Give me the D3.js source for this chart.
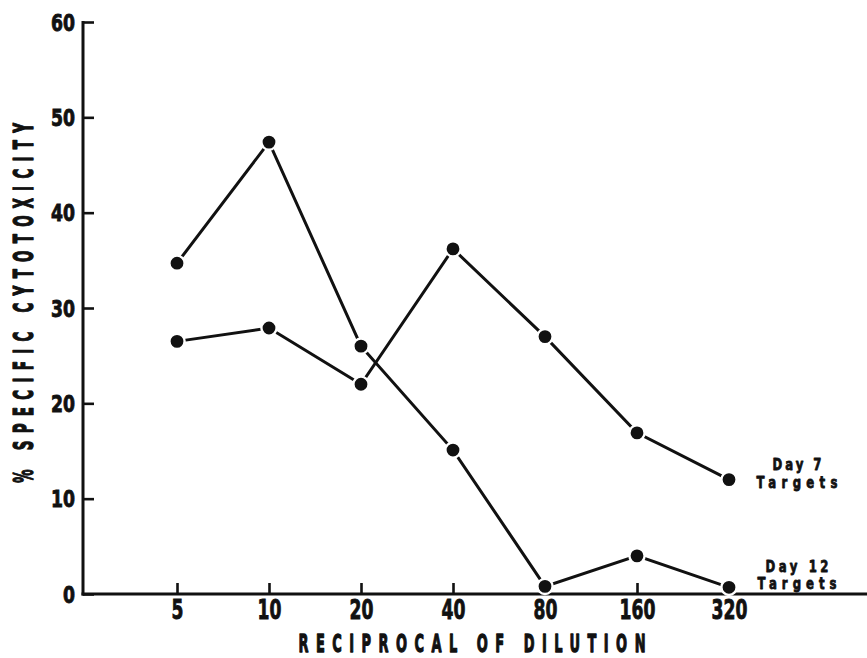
<!DOCTYPE html>
<html>
<head>
<meta charset="utf-8">
<script src="https://cdn.jsdelivr.net/npm/d3@7"></script>
<style>
  html, body { margin: 0; padding: 0; background: #fff; }
  svg { display: block; }
  text { font-family: "DejaVu Sans", "Liberation Sans", sans-serif; font-weight: bold; fill: #111; }
</style>
</head>
<body>
<svg id="chart" width="867" height="658"></svg>
<script>
const dilutions = ["5", "10", "20", "40", "80", "160", "320"];
const day7 = [26.5, 27.9, 22.0, 36.2, 27.0, 16.9, 12.0];
const day12 = [34.7, 47.4, 26.0, 15.1, 0.8, 4.0, 0.7];
const yTicks = [0, 10, 20, 30, 40, 50, 60];
const seriesLabels = [["Day 7", "Targets"], ["Day 12", "Targets"]];
const xTitle = "RECIPROCAL OF DILUTION";
const yTitle = "% SPECIFIC CYTOTOXICITY";

const svg = d3.select("#chart");
const axisX = 83, axisRight = 867;
const ink = "#111";

const x = d3.scalePoint().domain(dilutions).range([177, 729]);
const y = d3.scaleLinear().domain([0, 60]).range([594, 22]);

// solve letter-spacing so an element (text or tspan) spans a given width after horizontal scaling
function fitSpacing(el, str, width, sx) {
  el.attr("letter-spacing", 0);
  const natural = el.node().getComputedTextLength();
  const L = (width / sx - natural) / (str.length - 1);
  el.attr("letter-spacing", L).attr("dx", L / 2);
}

function condensedText(parent, str, opts) {
  const g = parent.append("g").attr("transform", `translate(${opts.x},${opts.y})${opts.rotate ? " rotate(" + opts.rotate + ")" : ""}`);
  const t = g.append("text").attr("font-size", opts.size).attr("text-anchor", "middle")
    .attr("transform", `scale(${opts.sx},1)`)
    .attr("stroke", ink).attr("stroke-width", opts.stroke || 0.8).attr("stroke-linejoin", "round")
    .text(str);
  fitSpacing(t, str, opts.width, opts.sx);
  return t;
}

// y axis
const yAxis = d3.axisLeft(y).tickValues(yTicks).tickSize(-11).tickFormat(d3.format("d"));
const gy = svg.append("g").attr("transform", `translate(${axisX},0)`).call(yAxis);
gy.select(".domain").remove();
gy.selectAll(".tick line").attr("stroke", ink).attr("stroke-width", 2.6);
gy.selectAll(".tick text").attr("font-size", 23).attr("fill", ink)
  .attr("x", null).attr("dy", "0.36em")
  .attr("transform", "translate(-8,0) scale(0.75,1)")
  .attr("stroke", ink).attr("stroke-width", 0.9);
svg.append("line").attr("x1", axisX).attr("x2", axisX).attr("y1", y(60) - 1).attr("y2", y(0) + 1.5)
  .attr("stroke", ink).attr("stroke-width", 3);

// x axis
const xAxis = d3.axisBottom(x).tickSize(-11);
const gx = svg.append("g").attr("transform", `translate(0,${y(0)})`).call(xAxis);
gx.select(".domain").remove();
gx.selectAll(".tick line").attr("stroke", ink).attr("stroke-width", 2.6);
gx.selectAll(".tick text").attr("font-size", 26).attr("fill", ink)
  .attr("y", null).attr("dy", 0)
  .attr("transform", "translate(0,25) scale(0.66,1)")
  .attr("stroke", ink).attr("stroke-width", 0.9);
svg.append("line").attr("x1", axisX - 1.5).attr("x2", axisRight).attr("y1", y(0)).attr("y2", y(0))
  .attr("stroke", ink).attr("stroke-width", 3);

// axis titles
condensedText(svg, xTitle, { x: 472, y: 651.5, size: 25, sx: 0.52, width: 347, stroke: 1.3 });
condensedText(svg, yTitle, { x: 33, y: 303, rotate: -90, size: 27, sx: 0.5, width: 360, stroke: 1.3 });

// lines & points
const line = d3.line().x((d, i) => x(dilutions[i])).y(d => y(d));
[day7, day12].forEach(s => {
  svg.append("path").datum(s).attr("d", line).attr("fill", "none")
    .attr("stroke", ink).attr("stroke-width", 3);
});
[day7, day12].forEach(s => {
  svg.append("g").selectAll("circle").data(s).join("circle")
    .attr("cx", (d, i) => x(dilutions[i])).attr("cy", d => y(d)).attr("r", 7.6)
    .attr("fill", ink).attr("stroke", "#fff").attr("stroke-width", 2.4);
});

// series labels: one two-line text per series, placed next to the series' last point
const lastVals = [day7[day7.length - 1], day12[day12.length - 1]];
const labelOffsets = [[-9.5, 8], [-15.5, 2]];
const labelWidths = [[49, 81], [63, 79]];
const labelSx = 0.78;
seriesLabels.forEach((lab, k) => {
  const base = y(lastVals[k]);
  const g = svg.append("g").attr("transform", `translate(797,${base})`);
  const t = g.append("text").attr("font-size", 15).attr("text-anchor", "middle")
    .attr("transform", `scale(${labelSx},1)`)
    .attr("stroke", ink).attr("stroke-width", 0.8).attr("stroke-linejoin", "round");
  lab.forEach((str, j) => {
    const ts = t.append("tspan").attr("x", 0).attr("y", labelOffsets[k][j]).text(str);
    fitSpacing(ts, str, labelWidths[k][j], labelSx);
  });
});
</script>
</body>
</html>
